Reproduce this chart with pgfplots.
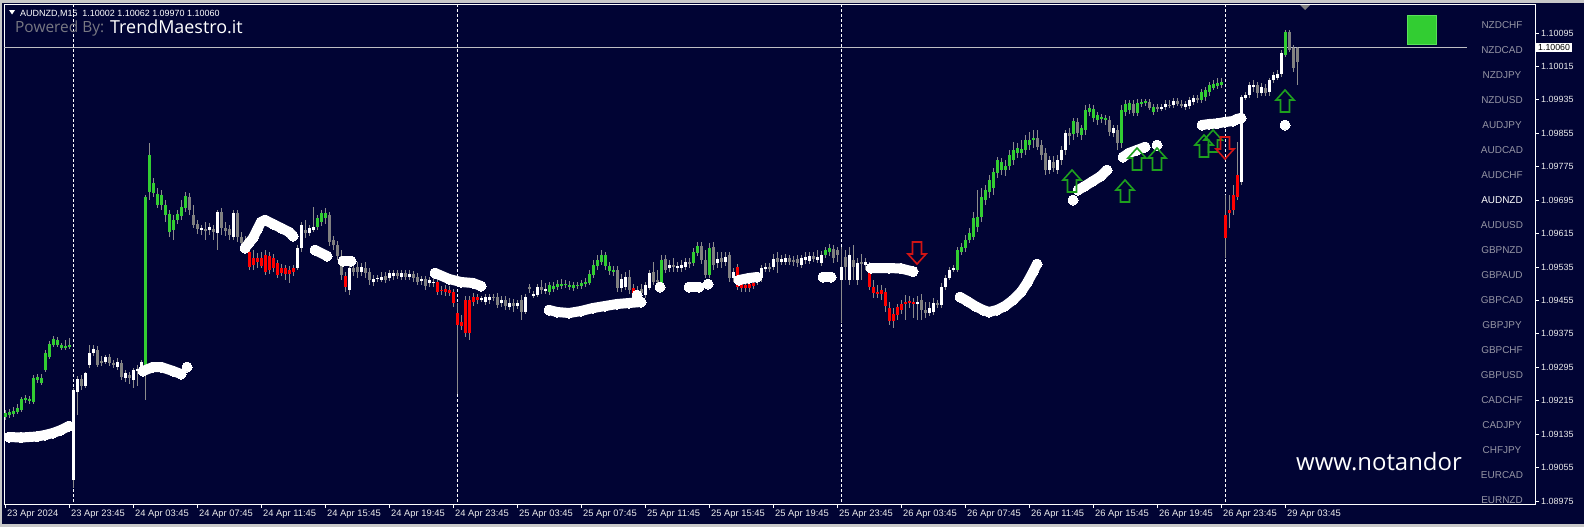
\documentclass[border=0pt]{standalone}
\usepackage{pgfplots}
\pgfplotsset{compat=1.18}
\usepackage{pgfplotstable}
\usepackage{fontspec}
\setmainfont{Liberation Sans}
\newfontfamily\segoe{Open Sans}
\definecolor{navy}{RGB}{1,4,52}
\definecolor{cgreen}{RGB}{50,205,50}
\definecolor{cred}{RGB}{255,0,0}
\definecolor{cgrey}{RGB}{128,128,128}
\definecolor{wick}{RGB}{140,140,140}
\definecolor{agreen}{RGB}{30,160,30}
\definecolor{ared}{RGB}{210,20,20}
\definecolor{framegrey}{RGB}{200,200,200}
\definecolor{listgrey}{RGB}{150,150,165}
\definecolor{lblwhite}{RGB}{235,235,235}
\definecolor{priceline}{RGB}{190,190,195}
\definecolor{powgrey}{RGB}{120,120,130}
\definecolor{sqgreen}{RGB}{50,205,50}
\definecolor{sqedge}{RGB}{90,225,90}

\pgfdeclareplotmark{uparr}{%
 \pgfpathmoveto{\pgfpoint{-4.5bp}{-11bp}}%
 \pgfpathlineto{\pgfpoint{4.5bp}{-11bp}}%
 \pgfpathlineto{\pgfpoint{4.5bp}{1bp}}%
 \pgfpathlineto{\pgfpoint{9bp}{1bp}}%
 \pgfpathlineto{\pgfpoint{0bp}{11bp}}%
 \pgfpathlineto{\pgfpoint{-9bp}{1bp}}%
 \pgfpathlineto{\pgfpoint{-4.5bp}{1bp}}%
 \pgfpathclose
 \pgfusepathqstroke}
\pgfdeclareplotmark{dnarr}{%
 \pgfpathmoveto{\pgfpoint{-4.5bp}{11bp}}%
 \pgfpathlineto{\pgfpoint{4.5bp}{11bp}}%
 \pgfpathlineto{\pgfpoint{4.5bp}{-1bp}}%
 \pgfpathlineto{\pgfpoint{9bp}{-1bp}}%
 \pgfpathlineto{\pgfpoint{0bp}{-11bp}}%
 \pgfpathlineto{\pgfpoint{-9bp}{-1bp}}%
 \pgfpathlineto{\pgfpoint{-4.5bp}{-1bp}}%
 \pgfpathclose
 \pgfusepathqstroke}

\pgfplotsset{dotline/.style={white, line width=10bp, line cap=round, line join=round,
  mark=*, mark size=5bp, mark options={draw=white, fill=white, line width=0pt}}}

% candles: bar index i, open o, close c, high h, low l (chart rows, top = 0), k: 1 green 2 red 3 white 4 grey
\pgfplotstableread{
i o c h l k
0 417 413 410 420 1
1 415 412 409 418 1
2 414 411 407 417 1
3 412 408 404 414 1
4 410 399 397 412 1
5 400 398 395 403 1
6 401 399 396 404 1
7 402 378 375 404 1
8 380 377 374 383 1
9 383 378 374 385 1
10 370 353 350 372 1
11 357 344 341 359 1
12 345 339 336 347 1
13 345 340 337 347 1
14 348 345 343 350 1
15 348 346 340 350 1
16 347 345 338 349 1
17 480 390 388 488 3
18 392 379 376 415 3
19 379 386 375 390 4
20 386 373 372 388 3
21 365 353 345 368 3
22 353 349 345 356 3
23 350 365 346 367 4
24 361 363 356 366 4
25 362 357 355 364 3
26 357 363 354 366 4
27 363 365 360 368 4
28 367 362 358 370 3
29 363 377 360 380 4
30 378 373 370 382 3
31 375 378 372 384 4
32 380 370 368 388 3
33 371 369 365 386 3
34 370 362 360 375 3
35 367 197 195 400 1
36 192 155 143 200 1
37 193 183 178 197 1
38 194 205 188 208 1
39 205 195 190 210 1
40 205 215 200 222 1
41 214 232 210 237 1
42 230 220 215 240 1
43 220 214 210 224 1
44 216 207 200 220 1
45 208 196 192 212 1
46 197 210 193 215 4
47 215 225 205 228 4
48 224 229 220 234 4
49 230 228 225 235 3
50 229 231 222 240 4
51 230 227 223 235 3
52 229 232 225 240 4
53 233 212 210 250 3
54 212 228 208 235 4
55 228 231 222 236 4
56 229 235 225 240 4
57 237 213 210 240 3
58 213 237 210 242 4
59 237 243 232 248 4
60 240 248 236 252 4
61 252 267 248 270 2
62 265 258 250 270 2
63 258 262 253 268 2
64 258 266 252 268 2
65 255 272 250 275 2
66 270 256 252 274 2
67 258 268 254 272 2
68 263 275 260 278 2
69 273 268 264 276 2
70 268 274 265 280 2
71 274 270 266 283 2
72 272 268 265 276 2
73 268 248 245 270 3
74 248 225 222 252 3
75 230 233 220 238 4
76 233 228 225 236 3
77 230 227 207 232 3
78 227 218 215 230 1
79 222 213 210 226 1
80 218 213 208 224 1
81 215 242 212 246 4
82 240 245 236 250 4
83 245 256 241 260 4
84 256 275 250 280 4
85 276 287 272 292 2
86 290 268 262 295 3
87 268 272 264 276 4
88 267 272 262 278 4
89 272 267 263 276 3
90 268 273 262 278 4
91 272 280 268 285 4
92 282 279 275 286 3
93 279 278 275 282 3
94 280 277 272 282 3
95 276 280 272 283 4
96 278 273 270 281 3
97 276 273 270 280 3
98 273 276 270 279 4
99 277 273 270 280 3
100 273 277 270 280 4
101 277 274 270 280 3
102 274 278 271 282 4
103 277 282 273 285 4
104 281 279 276 285 3
105 279 286 276 290 4
106 283 280 277 287 3
107 283 282 276 287 3
108 282 292 278 295 2
109 290 291 286 295 2
110 289 292 285 296 2
111 290 293 286 296 2
112 292 303 289 307 2
113 313 325 303 394 2
114 322 326 315 330 2
115 300 333 296 337 2
116 333 300 296 340 2
117 302 297 293 306 2
118 297 300 294 304 2
119 300 298 296 302 3
120 302 297 294 305 3
121 300 297 294 304 3
122 297 298 294 301 4
123 297 305 293 308 4
124 303 300 296 307 3
125 300 306 296 310 4
126 307 303 298 310 3
127 303 306 299 312 4
128 306 303 300 309 3
129 300 312 295 320 4
130 312 297 294 314 3
131 287 289 284 293 4
132 296 294 291 298 3
133 295 287 284 297 3
134 287 290 280 294 4
135 291 289 283 294 3
136 292 285 282 295 1
137 289 286 282 292 1
138 287 284 280 290 1
139 286 284 279 289 1
140 285 284 280 288 1
141 285 287 281 290 1
142 288 285 282 291 1
143 286 285 282 289 1
144 286 283 280 289 1
145 284 282 278 287 1
146 283 274 270 285 1
147 275 265 260 278 1
148 266 260 255 270 1
149 262 255 250 265 1
150 255 266 252 270 1
151 266 271 262 275 1
152 270 272 266 276 1
153 270 288 266 292 4
154 288 279 274 292 3
155 287 277 272 290 3
156 277 290 270 294 4
157 288 296 284 300 2
158 297 290 286 300 3
159 289 293 284 297 4
160 295 285 282 298 3
161 288 273 270 290 3
162 272 282 262 285 4
163 280 282 270 286 4
164 283 260 255 286 1
165 259 270 255 273 4
166 268 265 260 272 3
167 265 267 258 272 4
168 268 266 262 272 3
169 268 265 260 272 3
170 267 262 258 270 3
171 262 264 258 268 4
172 263 252 248 266 1
173 253 246 242 256 1
174 246 260 242 264 4
175 260 275 250 278 4
176 275 248 243 278 1
177 247 265 242 270 4
178 263 259 252 268 3
179 258 262 252 268 4
180 262 257 252 266 3
181 255 278 252 282 4
182 278 272 268 282 3
183 267 287 264 290 2
184 284 288 280 292 2
185 285 288 281 292 2
186 288 284 280 292 2
187 286 283 278 289 2
188 282 275 272 285 3
189 278 268 265 282 3
190 269 267 263 272 3
191 267 269 263 272 4
192 267 259 254 270 3
193 258 262 252 273 4
194 262 259 255 265 3
195 262 258 254 265 3
196 258 262 255 265 4
197 260 262 256 266 4
198 259 263 255 267 4
199 265 258 255 268 3
200 260 257 252 264 3
201 261 256 252 264 3
202 256 259 252 262 4
203 260 257 250 263 3
204 263 255 251 266 3
205 255 250 247 258 1
206 252 248 244 256 1
207 249 258 245 263 4
208 250 255 247 262 4
209 280 267 247 323 3
210 257 267 250 280 4
211 280 255 247 285 3
212 260 267 245 280 4
213 280 263 258 285 3
214 262 264 254 280 4
215 265 262 258 270 3
216 272 287 262 290 2
217 287 293 280 298 2
218 292 294 285 298 2
219 294 290 285 300 2
220 292 306 288 312 2
221 308 321 302 325 2
222 321 314 308 328 2
223 315 307 304 320 2
224 310 304 300 314 2
225 304 302 295 320 2
226 303 301 296 308 2
227 302 304 298 318 2
228 304 302 296 320 3
229 300 310 294 320 4
230 310 313 302 318 4
231 313 308 302 316 3
232 312 303 298 315 3
233 303 305 300 308 4
234 305 287 283 308 3
235 287 278 275 290 3
236 278 270 267 280 3
237 270 268 265 272 3
238 270 250 247 272 1
239 252 247 243 255 1
240 248 240 235 252 1
241 240 233 228 243 1
242 237 218 212 240 1
243 227 217 190 232 1
244 217 197 188 222 1
245 200 190 185 205 1
246 192 180 175 198 1
247 188 172 168 195 1
248 173 160 157 178 1
249 162 170 158 175 1
250 170 166 160 176 1
251 166 155 150 170 1
252 160 150 142 165 1
253 153 148 143 158 1
254 153 149 140 158 1
255 150 140 135 155 1
256 145 140 132 150 1
257 140 138 130 148 1
258 138 147 130 150 4
259 145 155 140 160 4
260 153 170 148 175 4
261 170 160 156 174 3
262 162 168 156 172 4
263 170 160 155 174 3
264 160 150 146 165 3
265 150 133 130 155 3
266 133 136 128 145 4
267 134 121 118 140 1
268 122 133 118 137 4
269 135 128 125 140 1
270 130 110 105 135 1
271 112 108 104 116 1
272 109 118 105 122 1
273 120 115 112 125 1
274 119 117 114 123 1
275 118 120 115 125 1
276 120 132 116 136 4
277 133 128 125 137 3
278 130 143 125 150 4
279 143 110 105 148 1
280 112 104 100 116 1
281 110 103 100 114 1
282 104 113 100 116 4
283 113 103 99 116 1
284 104 102 99 107 1
285 103 101 99 106 1
286 102 108 99 110 4
287 112 107 104 115 1
288 107 109 104 112 4
289 109 107 104 111 3
290 107 104 100 110 3
291 105 106 100 108 4
292 105 101 98 108 3
293 101 104 98 106 4
294 104 106 100 108 4
295 107 104 101 110 3
296 106 100 97 109 3
297 102 98 95 105 3
298 98 100 95 103 4
299 100 92 89 103 1
300 97 90 87 101 1
301 92 85 82 96 1
302 88 84 80 90 1
303 86 83 78 89 1
304 85 82 78 88 1
305 238 215 195 258 2
306 213 210 195 228 2
307 210 195 185 215 2
308 197 175 142 200 2
309 182 97 95 185 3
310 98 95 92 100 3
311 95 85 82 98 3
312 87 85 80 92 3
313 85 93 82 98 4
314 93 87 83 96 3
315 88 93 84 96 4
316 92 80 78 96 3
317 80 75 72 83 3
318 78 74 70 80 3
319 74 53 50 77 3
320 55 32 30 57 1
321 32 50 30 52 4
322 48 68 45 72 4
323 62 48 47 85 4
}\candles

\begin{document}
\begin{tikzpicture}
\fill[framegrey] (0bp,0bp) rectangle (1584bp,-527bp);
\fill[navy] (2bp,-3bp) rectangle (1584bp,-524bp);
\begin{axis}[
  at={(4bp,-504bp)}, anchor=south west,
  scale only axis, width=1531bp, height=500bp,
  xmin=-0.25, xmax=382.5, ymin=4, ymax=504, y dir=reverse,
  axis background/.style={fill=navy},
  axis line style={white, line width=1bp},
  clip=false,
  tick align=outside, major tick length=4bp,
  tick style={white, line width=1bp},
  xtick pos=left, xticklabel pos=left,
  ytick pos=right, yticklabel pos=right,
  xtick={0,16,...,320},
  xticklabels={23 Apr 2024,23 Apr 23:45,24 Apr 03:45,24 Apr 07:45,24 Apr 11:45,24 Apr 15:45,24 Apr 19:45,24 Apr 23:45,25 Apr 03:45,25 Apr 07:45,25 Apr 11:45,25 Apr 15:45,25 Apr 19:45,25 Apr 23:45,26 Apr 03:45,26 Apr 07:45,26 Apr 11:45,26 Apr 15:45,26 Apr 19:45,26 Apr 23:45,29 Apr 03:45},
  ytick={33,66.43,99.86,133.29,166.72,200.15,233.58,267.01,300.44,333.87,367.30,400.73,434.16,467.59,501.02},
  yticklabels={1.10095,1.10015,1.09935,1.09855,1.09775,1.09695,1.09615,1.09535,1.09455,1.09375,1.09295,1.09215,1.09135,1.09055,1.08975},
  xticklabel style={anchor=north west, inner sep=0pt, xshift=2bp, yshift=-2bp, text=lblwhite, font=\fontsize{9.4}{10}\selectfont},
  yticklabel style={anchor=west, inner sep=0pt, xshift=2bp, text=lblwhite, font=\fontsize{9}{10}\selectfont},
]
% day separators
\addplot[white, line width=1bp, dash pattern=on 3bp off 2bp] coordinates {(17,4) (17,504)};
\addplot[white, line width=1bp, dash pattern=on 3bp off 2bp] coordinates {(113,4) (113,504)};
\addplot[white, line width=1bp, dash pattern=on 3bp off 2bp] coordinates {(209,4) (209,504)};
\addplot[white, line width=1bp, dash pattern=on 3bp off 2bp] coordinates {(305,4) (305,504)};
% current price line
\addplot[priceline, line width=1bp] coordinates {(-0.25,47.6) (365.5,47.6)};
% wicks
\addplot[wick, line width=1bp, quiver={u=0, v=\thisrow{l}-\thisrow{h}}] table[x=i, y=h]{\candles};
% bodies
\addplot[cgreen, line width=3bp, quiver={u=0, v=\thisrow{c}-\thisrow{o}}, restrict expr to domain={\thisrow{k}}{1:1}] table[x=i, y=o]{\candles};
\addplot[cred, line width=3bp, quiver={u=0, v=\thisrow{c}-\thisrow{o}}, restrict expr to domain={\thisrow{k}}{2:2}] table[x=i, y=o]{\candles};
\addplot[white, line width=3bp, quiver={u=0, v=\thisrow{c}-\thisrow{o}}, restrict expr to domain={\thisrow{k}}{3:3}] table[x=i, y=o]{\candles};
\addplot[cgrey, line width=3bp, quiver={u=0, v=\thisrow{c}-\thisrow{o}}, restrict expr to domain={\thisrow{k}}{4:4}] table[x=i, y=o]{\candles};
% white dot trails
\addplot[dotline] coordinates {(1,437) (4,437.5) (8,436.5) (10,435) (12,433) (14,430) (16,426)};
\addplot[dotline] coordinates {(34.5,371) (37,367) (39,367) (42,371) (44,374)};
\addplot[dotline] coordinates {(45.5,367)};
\addplot[dotline] coordinates {(60,248) (61,243) (62,238) (63,230) (64,222) (65,220) (67,224) (69,228) (71,232) (72,236)};
\addplot[dotline] coordinates {(77.5,250) (80.5,256)};
\addplot[dotline] coordinates {(84.5,261) (86.5,261)};
\addplot[dotline] coordinates {(107.5,273) (111,279) (114,282) (117,283) (119,286)};
\addplot[dotline] coordinates {(136,310) (138,312) (141,313) (144,311) (147,308) (150,306) (153,304) (156,303) (159,302)};
\addplot[dotline] coordinates {(158,295)};
\addplot[dotline] coordinates {(163.75,287)};
\addplot[dotline] coordinates {(171,287) (173.5,287)};
\addplot[dotline] coordinates {(175.75,284)};
\addplot[dotline] coordinates {(183.5,280) (186,278) (188,277)};
\addplot[dotline] coordinates {(204.5,277) (206.5,277)};
\addplot[dotline] coordinates {(216.5,268) (221,268) (224,268.5) (227,271.5)};
\addplot[dotline] coordinates {(238.75,297) (240.5,301) (242.5,306) (244.5,310) (246,312) (248,310) (250,306) (252,300) (254,292) (255.5,283) (257,272) (258,264)};
\addplot[dotline] coordinates {(267,200)};
\addplot[dotline] coordinates {(268.25,190) (270,186) (272,181) (274,176) (275.5,170)};
\addplot[dotline] coordinates {(279.5,157) (281,153) (283,150) (285,147)};
\addplot[dotline] coordinates {(288,145)};
\addplot[dotline] coordinates {(299.25,125) (301,124) (303,123.5) (305,122) (307,121) (308,119) (309,118)};
\addplot[dotline] coordinates {(320,125)};
% signal arrows
\addplot[agreen, line width=1.6bp, only marks, mark=uparr] coordinates {(266.75,181) (280,191) (283,159) (288,159) (299.75,146) (302,141) (320,101)};
\addplot[ared, line width=1.6bp, only marks, mark=dnarr] coordinates {(228,253) (305,148)};
\end{axis}
% header
\fill[white] (9bp,-10bp) -- (15bp,-10bp) -- (12bp,-14.5bp) -- cycle;
\node[anchor=base west, inner sep=0pt, text=white, font=\fontsize{9}{10}\selectfont] at (20bp,-16bp) {AUDNZD,M15\ \ 1.10002 1.10062 1.09970 1.10060};
\node[anchor=base west, inner sep=0pt, text=powgrey, font=\segoe\fontsize{15.5}{17}\selectfont] at (15bp,-32bp) {Powered By:};
\node[anchor=base west, inner sep=0pt, text=white, font=\segoe\fontsize{18}{20}\selectfont] at (110bp,-33bp) {TrendMaestro.it};
% top marker
\fill[cgrey] (1300bp,-5bp) -- (1310bp,-5bp) -- (1305bp,-10bp) -- cycle;
% green status square
\fill[sqgreen] (1407bp,-15bp) rectangle (1437bp,-45bp);
\draw[sqedge, line width=1bp] (1407.5bp,-15.5bp) rectangle (1436.5bp,-44.5bp);
% symbol list
\foreach \n/\c [count=\k] in {NZDCHF/listgrey,NZDCAD/listgrey,NZDJPY/listgrey,NZDUSD/listgrey,AUDJPY/listgrey,AUDCAD/listgrey,AUDCHF/listgrey,AUDNZD/white,AUDUSD/listgrey,GBPNZD/listgrey,GBPAUD/listgrey,GBPCAD/listgrey,GBPJPY/listgrey,GBPCHF/listgrey,GBPUSD/listgrey,CADCHF/listgrey,CADJPY/listgrey,CHFJPY/listgrey,EURCAD/listgrey,EURNZD/listgrey}
  {\node[text=\c, inner sep=0pt, font=\fontsize{10}{11}\selectfont] at ({1502bp},{-\k*25bp}) {\n};}
% current price tag
\node[anchor=west, fill=white, text=black, inner xsep=2bp, inner ysep=1bp, font=\fontsize{8.8}{10}\selectfont] at (1536bp,-47.6bp) {1.10060};
% watermark
\node[anchor=base west, inner sep=0pt, text=white, font=\segoe\fontsize{24}{26}\selectfont] at (1296bp,-470bp) {www.notandor};
\end{tikzpicture}
\end{document}
